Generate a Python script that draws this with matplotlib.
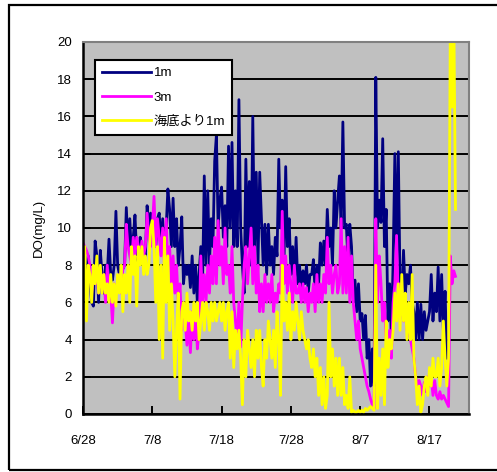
import numpy as np
import matplotlib
matplotlib.use("Agg")
import matplotlib.pyplot as plt
from matplotlib.patches import Rectangle

plt.rcParams['font.family'] = ['Liberation Sans', 'Noto Sans CJK JP', 'DejaVu Sans']

# Sampling step (days) and x tick labels (days since 6/28)
STEP = 0.25
tick_days = [0, 10, 20, 30, 40, 50]
tick_labels = ['6/28', '7/8', '7/18', '7/28', '8/7', '8/17']
series_names = ['1m', '3m', '海底より1m']

# DO (mg/L), 4 readings per day starting 6/28
do_1m = [
    8.8, 8.0, 7.5, 8.5,   7.0, 6.0, 5.8, 9.3,   8.5, 6.0, 8.8, 7.5,   6.5, 8.0, 7.5, 9.4,
    7.5, 7.2, 8.0, 10.9,  8.0, 7.5, 8.0, 7.8,   8.0, 11.1, 9.0, 10.5, 8.5, 9.5, 10.7, 8.5,
    8.0, 9.5, 9.0, 8.8,   8.5, 11.2, 10.0, 10.8, 9.5, 10.0, 9.0, 10.5, 10.8, 9.0, 10.5, 8.5,
    10.0, 12.1, 11.0, 9.0, 11.6, 9.0, 10.5, 8.0, 9.0, 10.6, 7.0, 8.0, 7.5, 8.0, 6.8, 8.5,
    6.5, 8.0, 6.0, 7.5,   9.0, 7.0, 12.8, 8.0,  12.0, 8.0, 10.5, 9.0, 13.6, 15.0, 10.0, 11.5,
    12.2, 9.5, 11.2, 9.0, 14.4, 10.0, 14.6, 9.0, 12.0, 9.0, 16.9, 10.0, 8.0, 6.5, 13.7, 9.0,
    12.5, 8.0, 16.0, 9.0, 13.0, 8.0, 13.0, 10.5, 8.0, 10.2, 7.5, 10.2, 8.0, 9.0, 7.5, 9.5,
    8.5, 13.7, 10.0, 11.5, 8.0, 13.3, 9.0, 10.5, 7.5, 9.0, 7.0, 9.5,  7.0, 8.0, 6.5, 7.7,
    7.0, 8.0, 6.5, 7.5,   7.5, 8.3, 6.5, 8.0,   7.0, 9.2, 8.0, 9.3,   8.0, 11.0, 9.0, 10.0,
    8.0, 12.0, 10.0, 11.5, 12.8, 10.0, 15.7, 10.0, 10.2, 8.0, 10.2, 9.0, 6.0, 7.2, 5.5, 7.0,
    5.0, 5.4, 4.0, 5.3,   3.0, 4.0, 1.5, 3.5,   1.5, 18.1, 10.0, 11.5, 10.3, 14.8, 9.0, 11.0,
    5.0, 7.0, 4.0, 8.2,   14.0, 8.0, 14.1, 7.0, 6.0, 8.8, 6.5, 7.5,  7.0, 8.0, 6.0, 5.5,
    4.0, 6.0, 4.0, 5.9,   4.0, 5.5, 4.5, 5.0,   5.5, 7.5, 5.0, 6.5,   5.5, 7.9, 5.0, 7.5,
    4.5, 6.6, 3.0,
]

do_3m = [
    9.2, 9.0, 8.8, 8.5,   8.0, 6.5, 7.5, 7.0,   7.5, 6.5, 7.5, 7.0,   7.5, 6.0, 8.0, 6.5,
    6.5, 4.9, 7.0, 6.5,   7.0, 7.5, 6.5, 7.8,   8.0, 10.2, 9.0, 8.5,  8.0, 9.5, 8.5, 9.5,
    9.0, 8.5, 9.3, 8.5,   9.0, 10.8, 9.5, 9.0,  10.0, 11.7, 9.0, 10.5, 9.5, 8.5, 10.0, 8.0,
    10.5, 8.0, 9.0, 7.0,  8.5, 6.5, 8.0, 6.0,   7.0, 4.5, 6.0, 5.0,   3.7, 5.0, 3.3, 5.5,
    4.0, 5.5, 3.5, 4.5,   8.5, 6.0, 7.5, 6.0,   8.0, 6.5, 8.5, 7.0,   9.5, 7.0, 10.4, 8.0,
    9.0, 7.0, 10.0, 7.5,  8.0, 6.5, 9.0, 6.0,   5.0, 4.0, 6.0, 3.6,   6.0, 8.0, 9.0, 7.0,
    8.5, 10.0, 7.0, 9.0,  6.5, 8.0, 5.5, 7.0,   5.5, 7.5, 6.0, 7.0,   6.0, 7.5, 5.5, 6.5,
    6.0, 7.0, 6.5, 10.9,  7.0, 8.5, 6.5, 8.0,   7.0, 6.0, 8.0, 6.5,   6.5, 7.0, 6.0, 7.0,
    6.0, 6.8, 5.5, 6.5,   6.0, 7.0, 5.5, 7.5,   6.0, 7.0, 6.0, 7.5,   6.5, 9.5, 7.0, 8.0,
    6.5, 7.5, 8.0, 6.5,   7.0, 10.5, 6.5, 9.0,  6.5, 9.5, 6.0, 8.5,   6.0, 5.0, 4.0, 5.0,
    3.5, 3.0, 2.5, 2.0,   1.5, 1.2, 0.8, 0.5,   0.3, 10.5, 6.0, 8.5,  7.0, 5.0, 6.0, 4.0,
    3.5, 4.5, 3.0, 6.0,   7.0, 9.6, 6.0, 7.0,   5.5, 5.0, 5.5, 4.5,   4.5, 4.0, 3.5, 3.0,
    2.0, 1.5, 1.8, 1.5,   1.0, 1.7, 1.2, 2.0,   1.5, 2.0, 1.0, 1.8,   1.0, 0.8, 1.2, 0.8,
    1.0, 0.8, 0.6, 0.4,   8.5, 7.0, 7.7, 7.4,
]

do_bottom = [
    8.8, 9.0, 5.0, 8.0,   7.5, 6.0, 8.0, 7.0,   8.5, 6.5, 8.0, 6.5,   7.5, 6.5, 7.0, 6.0,
    7.5, 6.0, 7.0, 5.8,   7.5, 6.5, 8.0, 5.5,   7.5, 6.5, 8.0, 6.0,   9.0, 7.5, 8.5, 5.8,
    9.0, 8.0, 9.0, 7.5,   8.5, 7.5, 8.0, 10.0,  10.4, 9.0, 6.0, 9.0,  4.0, 8.0, 3.0, 9.5,
    6.0, 8.5, 4.5, 7.0,   5.0, 2.0, 4.5, 6.5,   0.8, 5.5, 6.0, 4.5,   6.5, 5.0, 5.5, 4.5,
    6.0, 5.0, 6.0, 4.0,   5.0, 6.0, 4.5, 6.0,   5.5, 4.5, 6.0, 5.0,   6.0, 5.0, 5.5, 6.0,
    5.0, 6.0, 4.5, 5.5,   6.0, 3.0, 5.5, 2.5,   4.5, 3.5, 4.5, 3.0,   0.5, 4.0, 2.0, 4.5,
    3.5, 2.5, 4.0, 2.0,   4.5, 3.0, 4.5, 2.5,   1.5, 4.0, 3.0, 5.0,   4.0, 3.0, 4.5, 2.5,
    5.5, 4.0, 1.0, 8.0,   5.0, 6.0, 4.5, 6.5,   4.0, 5.5, 4.5, 6.0,   5.0, 4.0, 5.5, 4.5,
    4.0, 3.5, 4.0, 3.0,   2.5, 3.5, 2.0, 3.0,   1.0, 2.5, 0.5, 2.0,   0.3, 1.0, 6.0, 2.0,
    3.5, 1.5, 3.0, 1.0,   3.0, 1.0, 2.5, 0.5,   1.0, 0.3, 2.0, 0.1,   0.2, 0.1, 0.1, 0.2,
    0.1, 0.2, 0.1, 0.3,   0.2, 0.3, 0.4, 0.3,   0.2, 8.0, 0.3, 3.0,   1.0, 3.5, 0.5, 5.0,
    2.5, 4.0, 3.5, 4.5,   6.5, 5.0, 7.0, 4.5,   7.5, 5.0, 6.5, 4.0,   6.0, 4.0, 7.5, 3.0,
    2.0, 0.5, 1.5, 0.1,   0.5, 1.5, 2.0, 1.0,   2.5, 1.5, 3.0, 2.0,   2.0, 3.0, 1.5, 2.5,
    5.0, 3.0, 1.5, 3.0,   21.0, 16.5, 22.0, 11.0,
]

colors = ['#000080', '#FF00FF', '#FFFF00']

W, H = 497, 472
fig = plt.figure(figsize=(W / 100, H / 100), dpi=100)
fig.patch.set_facecolor('white')

# outer frame
fig.patches.append(Rectangle((9 / W, 2 / H), 1.0, (468 - 4) / H + 0.002,
                             transform=fig.transFigure, fill=False,
                             edgecolor='black', linewidth=1.6, zorder=0))

ax = fig.add_axes([83 / W, 1 - 414 / H, (469 - 83) / W, (414 - 42) / H])
ax.set_facecolor('#C0C0C0')

for vals, c, name in zip([do_1m, do_3m, do_bottom], colors, series_names):
    t = np.arange(len(vals)) * STEP
    ax.plot(t, vals, color=c, linewidth=2.0, label=name)

ax.set_xlim(0, 55.7)
ax.set_ylim(0, 20)
ax.set_yticks(np.arange(0, 21, 2))
ax.set_xticks(tick_days)
ax.set_xticklabels(tick_labels)
ax.grid(axis='y', color='black', linewidth=1.4)
ax.set_axisbelow(True)

ax.tick_params(axis='y', direction='in', length=6, width=1.4, pad=8, labelsize=9.5)
ax.tick_params(axis='x', direction='in', length=6, width=1.4, pad=15, labelsize=9.5)

for s in ['top', 'right']:
    ax.spines[s].set_color('#808080')
    ax.spines[s].set_linewidth(1.5)
for s in ['left', 'bottom']:
    ax.spines[s].set_color('black')
    ax.spines[s].set_linewidth(1.8)

ax.set_ylabel('DO(mg/L)', fontsize=9.5, labelpad=9)

leg = ax.legend(loc='upper left', bbox_to_anchor=((95 - 83) / 386, (414 - 60) / 372),
                borderaxespad=0, fontsize=9.5, frameon=True, fancybox=False,
                handlelength=3.7, handletextpad=0.2, labelspacing=0.9,
                borderpad=0.55, framealpha=1)
leg.get_frame().set_edgecolor('black')
leg.get_frame().set_linewidth(1.5)
for ln in leg.get_lines():
    ln.set_linewidth(2)

fig.savefig('out.png', dpi=100)
